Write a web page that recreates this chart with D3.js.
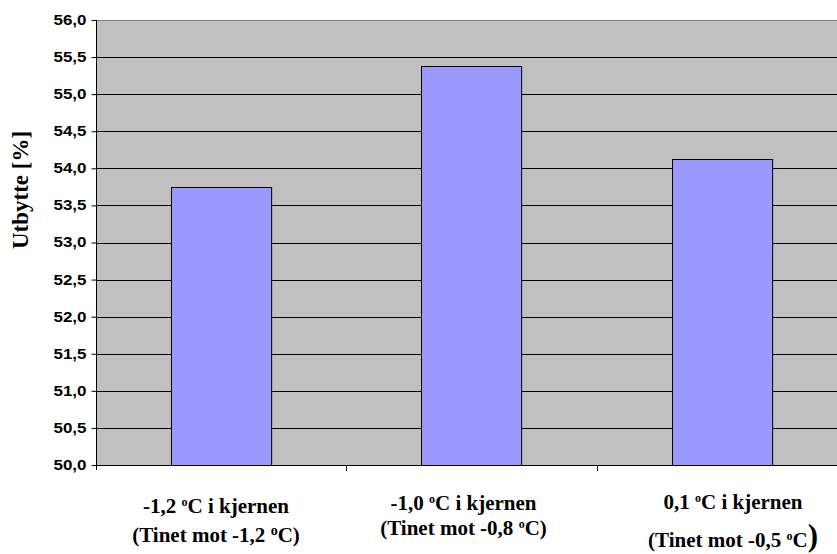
<!DOCTYPE html>
<html><head><meta charset="utf-8">
<script src="https://cdn.jsdelivr.net/npm/d3@7"></script>
<style>body{margin:0;background:#fff}svg{display:block}</style>
</head><body>
<svg id="c" width="837" height="554"></svg>
<script>
const categories = ["cat1","cat2","cat3"];
const line1 = [["-1,2 ","o","C i kjernen"],["-1,0 ","o","C i kjernen"],["0,1 ","o","C i kjernen"]];
const line2 = [["(Tinet mot -1,2 ","o","C)"],["(Tinet mot -0,8 ","o","C)"],["(Tinet mot -0,5 ","o","C"]];
const values = [53.75, 55.38, 54.13];
const yTicks = [50.0,50.5,51.0,51.5,52.0,52.5,53.0,53.5,54.0,54.5,55.0,55.5,56.0];

const svg = d3.select("#c");
const L = 96, R = 847, T = 20, B = 465;
const x = d3.scaleBand().domain(categories).range([L, R]).paddingInner(0.6).paddingOuter(0.3);
const xOuter = d3.scaleBand().domain(categories).range([L, R]);
const y = d3.scaleLinear().domain([50, 56]).range([B, T]);

svg.append("rect").attr("x", L).attr("y", T).attr("width", R - L).attr("height", B - T).attr("fill", "#C0C0C0");
svg.append("line").attr("x1", L).attr("x2", R).attr("y1", T + 0.5).attr("y2", T + 0.5).attr("stroke", "#808080");

// gridlines
svg.append("g").selectAll("line").data(yTicks.filter(d => d > 50 && d < 56)).join("line")
  .attr("x1", L).attr("x2", R)
  .attr("y1", d => Math.round(y(d)) + 0.5).attr("y2", d => Math.round(y(d)) + 0.5)
  .attr("stroke", "#000").attr("stroke-width", 1);

// bars
svg.append("g").selectAll("rect").data(values).join("rect")
  .attr("x", (d, i) => Math.round(x(categories[i])) + 0.5)
  .attr("y", d => Math.round(y(d)) + 0.5)
  .attr("width", x.bandwidth())
  .attr("height", d => B - Math.round(y(d)))
  .attr("fill", "#9999FF").attr("stroke", "#000").attr("stroke-width", 1);

// y axis
const yAxis = d3.axisLeft(y).tickValues(yTicks).tickSize(5).tickPadding(5)
  .tickFormat(d => d3.format(".1f")(d).replace(".", ","));
const gy = svg.append("g").attr("transform", `translate(${L + 0.5},0)`).call(yAxis);
gy.select(".domain").attr("d", `M0,${T}V${B + 5}`).attr("stroke", "#000");
gy.selectAll(".tick line").attr("stroke", "#000");
gy.selectAll(".tick text")
  .attr("font-family", "'Liberation Sans', Arial, sans-serif")
  .attr("font-weight", "bold").attr("font-size", 14).attr("fill", "#000")
  .attr("textLength", 33).attr("lengthAdjust", "spacingAndGlyphs");

// x axis
const bounds = [xOuter(categories[1]), xOuter(categories[2])];
svg.append("line").attr("x1", L).attr("x2", R).attr("y1", B + 0.5).attr("y2", B + 0.5).attr("stroke", "#000");
svg.append("g").selectAll("line").data(bounds).join("line")
  .attr("x1", d => Math.round(d) + 0.5).attr("x2", d => Math.round(d) + 0.5)
  .attr("y1", B).attr("y2", B + 6).attr("stroke", "#000");

// x labels
const serif = "'Liberation Serif', 'Times New Roman', serif";
const lab = svg.append("g").attr("font-family", serif).attr("font-weight", "bold").attr("fill", "#000").attr("text-anchor", "middle");
const cx = [216, 463.5, 733];
const b1 = [513, 510, 509];
const b2 = [542, 535, 547];
categories.forEach((c, i) => {
  const t1 = lab.append("text").attr("x", cx[i]).attr("y", b1[i]).attr("font-size", 21);
  t1.append("tspan").text(line1[i][0]);
  t1.append("tspan").attr("font-size", 12).attr("dy", -7).text(line1[i][1]);
  t1.append("tspan").attr("dy", 7).text(line1[i][2]);
  const t2 = lab.append("text").attr("x", cx[i]).attr("y", b2[i]).attr("font-size", 21);
  t2.append("tspan").text(line2[i][0]);
  t2.append("tspan").attr("font-size", i === 0 ? 14 : 12).attr("dy", -7).text(line2[i][1]);
  t2.append("tspan").attr("dy", 7).text(line2[i][2]);
  if (i === 2) t2.append("tspan").attr("font-size", 31).attr("dy", -1).text(")");
});

// y label
svg.append("text").attr("transform", "translate(28,190) rotate(-90)")
  .attr("text-anchor", "middle").attr("font-family", serif).attr("font-weight", "bold")
  .attr("font-size", 23).attr("fill", "#000").text("Utbytte [%]");
</script>
</body></html>
